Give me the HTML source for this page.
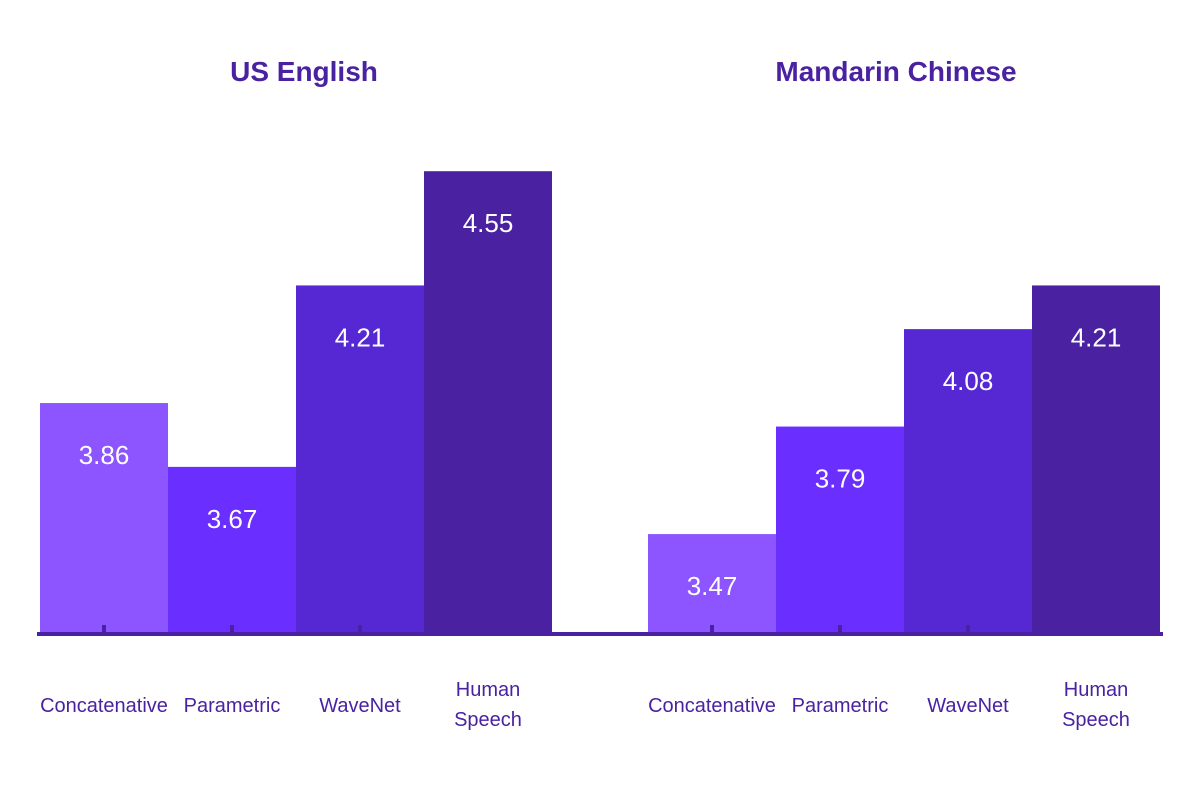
<!DOCTYPE html>
<html><head><meta charset="utf-8"><style>
body{margin:0;background:#fff;}
svg{display:block;font-family:"Liberation Sans",sans-serif;}
</style></head><body>
<svg id="c" width="1200" height="786">
<text x="304" y="81" text-anchor="middle" font-size="28" font-weight="bold" fill="#4a22a1">US English</text>
<text x="896" y="81" text-anchor="middle" font-size="28" font-weight="bold" fill="#4a22a1">Mandarin Chinese</text>
</svg>
<script>
const categories=["Concatenative","Parametric","WaveNet","Human Speech"];
const usEnglish=[3.86,3.67,4.21,4.55];
const mandarin=[3.47,3.79,4.08,4.21];
const colors=["#8c55ff","#6a2eff","#5628d4","#4a22a1"];
const svg=document.getElementById('c');
const NS="http://www.w3.org/2000/svg";
const base=633;
function y(v){return 1700-336*v;}
function mk(t,a){const e=document.createElementNS(NS,t);for(const k in a)e.setAttribute(k,a[k]);svg.appendChild(e);return e;}
const groups=[{vals:usEnglish,x0:40,name:'us-english'},{vals:mandarin,x0:648,name:'mandarin'}];
groups.forEach(g=>{
  g.vals.forEach((v,i)=>{
    const x=g.x0+i*128, top=y(v);
    const r=mk('rect',{x:x,y:top,width:128,height:base-top,fill:colors[i]});
    
    
    const t=mk('text',{x:x+64,y:top+61,'text-anchor':'middle','font-size':26,fill:'#fff'});
    t.textContent=v.toFixed(2);
    
    
    const tk=mk('rect',{x:x+62,y:base-8,width:4,height:8,fill:'#4a22a1'});
    
    
    const cx=x+64;
    const words=categories[i].split(' ');
    if(words.length===1){
      const l=mk('text',{x:cx,y:712,'text-anchor':'middle','font-size':20,fill:'#4a22a1'});
      l.textContent=words[0];
      
      
    } else {
      words.forEach((w,j)=>{
        const l=mk('text',{x:cx,y:696+j*30,'text-anchor':'middle','font-size':20,fill:'#4a22a1'});
        l.textContent=w;
        
        
      });
    }
  });
});
const ax=mk('rect',{x:37,y:base-1,width:1126,height:4,fill:'#4a22a1'});


</script>
</body></html>
